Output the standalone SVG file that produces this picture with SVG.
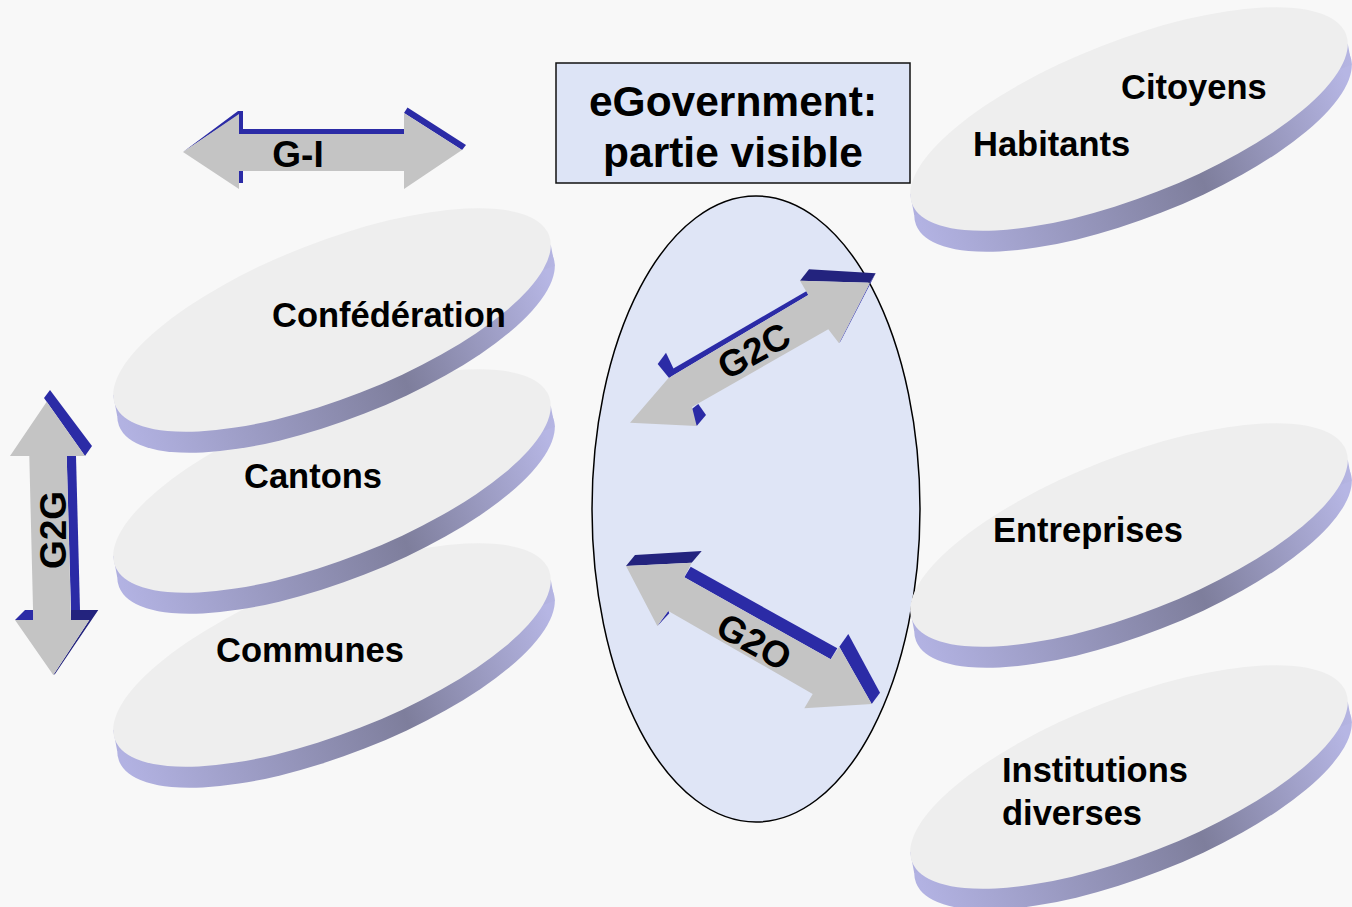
<svg xmlns="http://www.w3.org/2000/svg" width="1352" height="907" viewBox="0 0 1352 907">
<style>
.lbl{font-family:"Liberation Sans",Arial,sans-serif;font-weight:bold;font-size:34.5px;fill:#000}
.title{font-size:42.5px;text-anchor:middle}
.mid{text-anchor:middle}
.arw{font-size:37px}
.gray{fill:#c4c4c4}
.blue{fill:#2b2ba6}
.dblue{fill:#23237e}
</style>
<defs>
<linearGradient id="side" gradientUnits="userSpaceOnUse" x1="-225" y1="0" x2="225" y2="0">
<stop offset="0" stop-color="#b2b2e2"/>
<stop offset="0.62" stop-color="#7e7e9c"/>
<stop offset="1" stop-color="#b6b6e4"/>
</linearGradient>
<g id="disc">
<ellipse cx="4" cy="21" rx="233" ry="78" transform="rotate(-21.4 4 21)" fill="url(#side)"/>
<polygon points="-218.8,74.9 218.8,-74.9 222.8,-53.9 -214.8,95.9" fill="url(#side)"/>
<ellipse cx="0" cy="0" rx="233" ry="78" transform="rotate(-21.4)" fill="#eeeeee"/>
</g>
</defs>
<rect width="1352" height="907" fill="#f8f8f8"/>

<g id="egov-ellipse">
<ellipse cx="756" cy="509" rx="164" ry="313" fill="#dfe5f6" stroke="#000" stroke-width="1.5"/>
</g>

<g id="title">
<rect x="556" y="63" width="354" height="120" fill="#dde4f6" stroke="#111" stroke-width="1.5"/>
<text class="lbl title" x="733" y="116">eGovernment:</text>
<text class="lbl title" x="733" y="167">partie visible</text>
</g>

<g id="communes">
<use href="#disc" transform="translate(332,655)"/>
<text class="lbl" x="216" y="662">Communes</text>
</g>
<g id="cantons">
<use href="#disc" transform="translate(332,481)"/>
<text class="lbl" x="244" y="488">Cantons</text>
</g>
<g id="confederation">
<use href="#disc" transform="translate(332,320)"/>
<text class="lbl" x="272" y="327">Confédération</text>
</g>

<g id="citoyens">
<use href="#disc" transform="translate(1129,119)"/>
<text class="lbl" x="1121" y="99">Citoyens</text>
<text class="lbl" x="973" y="156">Habitants</text>
</g>
<g id="entreprises">
<use href="#disc" transform="translate(1129,535)"/>
<text class="lbl" x="993" y="542">Entreprises</text>
</g>
<g id="institutions">
<use href="#disc" transform="translate(1129,777)"/>
<text class="lbl" x="1002" y="782">Institutions</text>
<text class="lbl" x="1002" y="825">diverses</text>
</g>

<g id="arrows">
<g id="arrow-gi">
<polygon class="blue" points="239,129 404,129 404,134 239,134"/>
<polygon class="blue" points="183,152 238,111 243,111 243,134 239,134 239,115"/>
<polygon class="blue" points="238,171 243,171 243,183 238,183"/>
<polygon class="blue" points="404,113 407.5,107.5 466,145 462,150"/>
<polygon class="gray" points="183,152 239,114 239,134 404,134 404,113 462,150 404,189 404,171 239,171 239,189"/>
<text class="lbl arw mid" x="298" y="167">G-I</text>
</g>
<g id="arrow-g2g">
<polygon class="blue" points="44,398 50,390 92,446 85,456 46.7,401.7"/>
<polygon class="blue" points="66.7,456 76,456 80,610 71,610"/>
<polygon class="blue" points="15,620 25,610 33.3,610 33.3,620"/>
<polygon class="dblue" points="71,610 98.3,610 55,674 53.3,675 89.3,620 71,620"/>
<polygon class="gray" points="46.7,401.7 85,456 66.7,456 71,620 89.3,620 53.3,675 15,620 33.3,620 29.3,456 10,456"/>
<text class="lbl arw mid" transform="translate(66,530) rotate(-90)" x="0" y="0">G2G</text>
</g>
<g id="arrow-g2c">
<polygon class="blue" points="670,377.3 666.5,372.5 806.7,291 808.3,295"/>
<polygon class="blue" points="657.7,364 666,352.7 675,371.7 669.3,378.3"/>
<polygon class="blue" points="688.3,411.7 698.3,404 706,415 696.7,426"/>
<polygon class="dblue" points="800,280.7 809,269.3 875.7,273.3 870,282.7"/>
<polygon class="blue" points="870,282.7 875.7,273.3 840.7,341 839,343.3"/>
<polygon class="gray" points="630,422.7 668.3,378.3 670,377.3 808.3,295 800,280.7 870,282.7 839,343.3 828.3,329.3 692,407 696.7,426"/>
<text class="lbl arw mid" transform="translate(760,362) rotate(-29)" x="0" y="0">G2C</text>
</g>
<g id="arrow-g2o">
<polygon class="dblue" points="626,566 635,555 701.7,551 691.7,562.7"/>
<polygon class="blue" points="684.3,577.3 690.7,566.7 837.3,648.3 830.7,659.3"/>
<polygon class="blue" points="839.3,646.7 848.3,634 880,692.7 871.7,704"/>
<polygon class="blue" points="657.3,626 668.3,610.7 669.3,613.3 659.3,624"/>
<polygon class="gray" points="626,566 691.7,562.7 684.3,577.3 830.7,659.3 839.3,646.7 871.7,704 804.3,708.3 812.7,694 668.3,611 657.3,626"/>
<text class="lbl arw mid" transform="translate(748,653) rotate(29)" x="0" y="0">G2O</text>
</g>
</g>
</svg>
